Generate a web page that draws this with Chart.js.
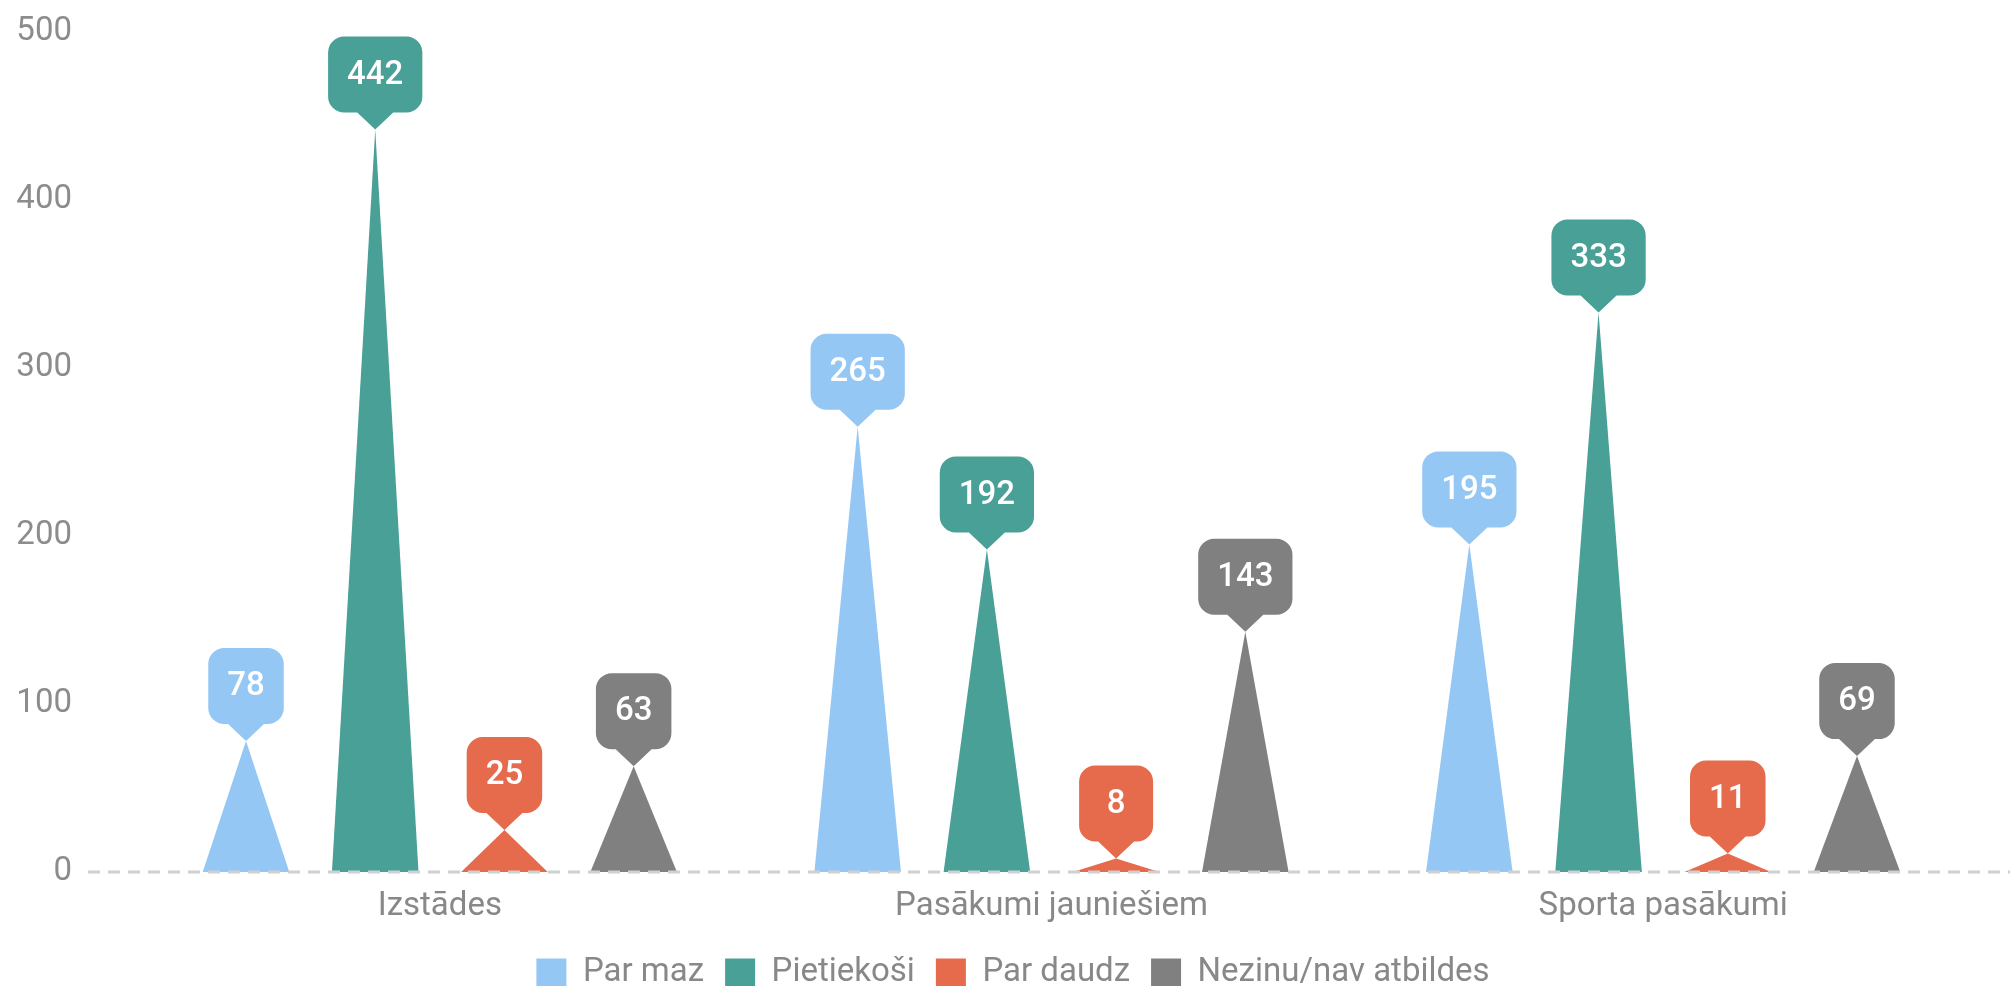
<!DOCTYPE html>
<html>
<head>
<meta charset="utf-8">
<script src="https://cdn.jsdelivr.net/npm/chart.js@4"></script>
<style>
    html, body { margin: 0; padding: 0; background: #fff; }
    #wrap { width: 2010px; height: 986px; position: relative; }
</style>
</head>
<body>
<div id="wrap"><canvas id="chart"></canvas></div>
<script>
// Chart data
const categories = ['Izstādes', 'Pasākumi jauniešiem', 'Sporta pasākumi'];
const seriesNames = ['Par maz', 'Pietiekoši', 'Par daudz', 'Nezinu/nav atbildes'];
const parMaz = [78, 265, 195];
const pietiekosi = [442, 192, 333];
const parDaudz = [25, 8, 11];
const nezinu = [63, 143, 69];
const yTicks = [0, 100, 200, 300, 400, 500];

const colors = [
    '#95c7f4',  // light blue
    '#48a096',  // teal
    '#e56b4c',  // orange
    '#808080',  // gray
];

// Draws bars as triangles, the dashed zero line and callout labels
const pyramidPlugin = {
    id: 'pyramids',
    beforeDatasetDraw() {
        return false;
    },
    afterDatasetsDraw(chart) {
        const ctx = chart.ctx;
        const yScale = chart.scales.y;
        const zeroY = yScale.getPixelForValue(0);

        ctx.save();
        chart.data.datasets.forEach((ds, i) => {
            const meta = chart.getDatasetMeta(i);
            if (meta.hidden) return;
            ctx.fillStyle = ds.backgroundColor;
            meta.data.forEach(bar => {
                const p = bar.getProps(['x', 'y', 'base', 'width'], true);
                ctx.beginPath();
                ctx.moveTo(p.x - p.width / 2, p.base);
                ctx.lineTo(p.x, p.y);
                ctx.lineTo(p.x + p.width / 2, p.base);
                ctx.closePath();
                ctx.fill();
            });
        });

        // dashed baseline
        ctx.strokeStyle = '#d0d0d0';
        ctx.lineWidth = 3;
        ctx.setLineDash([12, 8]);
        ctx.beginPath();
        ctx.moveTo(88, zeroY);
        ctx.lineTo(chart.width, zeroY);
        ctx.stroke();
        ctx.setLineDash([]);

        // callouts
        ctx.font = '500 33px Roboto';
        ctx.textAlign = 'center';
        ctx.textBaseline = 'middle';
        chart.data.datasets.forEach((ds, i) => {
            const meta = chart.getDatasetMeta(i);
            if (meta.hidden) return;
            meta.data.forEach((bar, j) => {
                const p = bar.getProps(['x', 'y'], true);
                const text = String(ds.data[j]);
                const w = Math.max(74, ctx.measureText(text).width + 38);
                const h = 76, r = 16, pw = 18, ph = 17;
                const B = p.y - ph, T = B - h;
                const L = p.x - w / 2, R = p.x + w / 2;
                ctx.fillStyle = ds.backgroundColor;
                ctx.beginPath();
                ctx.moveTo(L + r, T);
                ctx.arcTo(R, T, R, T + r, r);
                ctx.arcTo(R, B, R - r, B, r);
                ctx.lineTo(p.x + pw, B);
                ctx.lineTo(p.x, p.y);
                ctx.lineTo(p.x - pw, B);
                ctx.arcTo(L, B, L, B - r, r);
                ctx.arcTo(L, T, L + r, T, r);
                ctx.closePath();
                ctx.fill();
                ctx.fillStyle = '#ffffff';
                ctx.fillText(text, p.x, T + h / 2 + 1);
            });
        });
        ctx.restore();
    }
};

const seriesValues = [parMaz, pietiekosi, parDaudz, nezinu];

const chart = new Chart(document.getElementById('chart'), {
    type: 'bar',
    data: {
        labels: categories,
        datasets: seriesNames.map((name, i) => ({
            label: name,
            data: seriesValues[i],
            backgroundColor: colors[i],
            borderWidth: 0,
            categoryPercentage: 0.845,
            barPercentage: 0.67,
        })),
    },
    options: {
        responsive: true,
        maintainAspectRatio: false,
        animation: false,
        layout: {
            padding: { top: 0, right: 0, bottom: -13, left: 16 }
        },
        plugins: {
            legend: {
                position: 'bottom',
                labels: {
                    color: '#888',
                    boxWidth: 30,
                    boxHeight: 28,
                    padding: 21,
                    font: { family: 'Roboto', size: 33 }
                }
            },
            tooltip: { enabled: false }
        },
        scales: {
            x: {
                afterFit: scale => {
                    scale.height = 63;
                },
                grid: { display: false, drawTicks: false },
                border: { display: false },
                ticks: {
                    color: '#888',
                    padding: 15,
                    font: { family: 'Roboto', size: 33 }
                }
            },
            y: {
                min: 0,
                max: 500,
                afterBuildTicks: scale => {
                    scale.ticks = yTicks.map(v => ({ value: v }));
                },
                afterFit: scale => {
                    scale.width = 118;
                    scale.paddingTop = 32;
                    scale.paddingBottom = 0;
                },
                grid: { display: false, drawTicks: false },
                border: { display: false },
                ticks: {
                    color: '#8c8c8c',
                    padding: 62,
                    font: { family: 'Roboto', size: 33 }
                }
            },
            // empty right-hand space
            yRight: {
                position: 'right',
                afterFit: scale => {
                    scale.width = 41;
                },
                grid: { display: false, drawTicks: false },
                border: { display: false },
                ticks: { display: false }
            }
        }
    },
    plugins: [pyramidPlugin]
});
</script>
</body>
</html>
